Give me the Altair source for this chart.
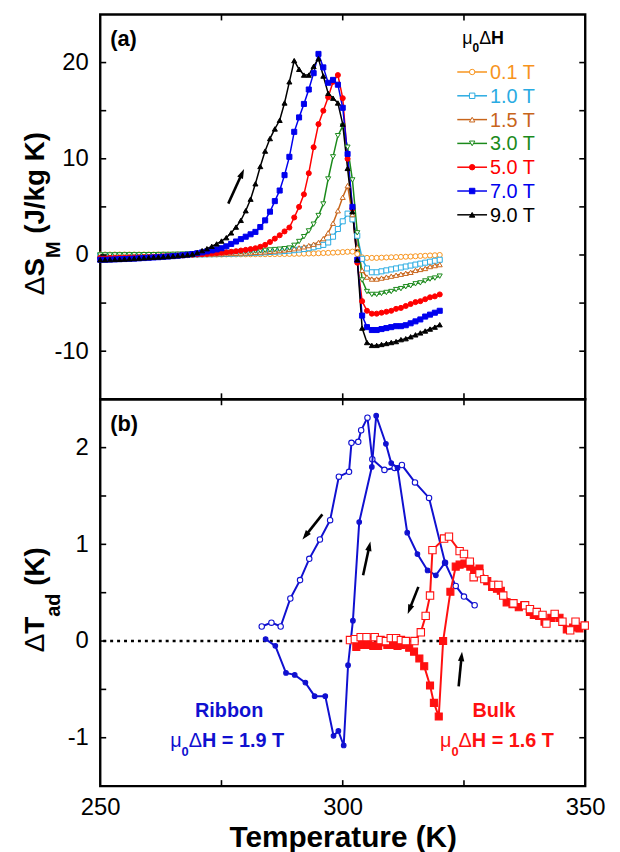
import math
import altair as alt
import pandas as pd

FONT = "Liberation Sans"

# ---------------- panel (a) data: entropy change vs temperature ----------------
T_A = list(range(250, 321))
FIELDS = ["0.1 T", "1.0 T", "1.5 T", "3.0 T", "5.0 T", "7.0 T", "9.0 T"]

S_01 = [0.05, 0.05, 0.05, 0.05, 0.05, 0.05, 0.05, 0.05, 0.05, 0.05,
        0.05, 0.05, 0.05, 0.05, 0.05, 0.05, 0.05, 0.05, 0.05, 0.05,
        0.05, 0.05, 0.05, 0.05, 0.05, 0.05, 0.06, 0.06, 0.06, 0.07,
        0.07, 0.07, 0.08, 0.08, 0.08, 0.09, 0.09, 0.10, 0.10, 0.11,
        0.12, 0.13, 0.14, 0.15, 0.16, 0.18, 0.20, 0.22, 0.24, 0.27,
        0.30, 0.33, 0.35, 0.10, -0.25, -0.30, -0.30, -0.30, -0.28, -0.26,
        -0.24, -0.22, -0.20, -0.18, -0.16, -0.13, -0.10, -0.08, -0.05, -0.03,
        0.00]
S_10 = [-0.05, -0.05, -0.05, -0.05, -0.05, -0.05, -0.04, -0.04, -0.04, -0.04,
        -0.03, -0.03, -0.02, -0.02, -0.01, 0.00, 0.01, 0.02, 0.03, 0.04,
        0.05, 0.06, 0.07, 0.08, 0.09, 0.10, 0.11, 0.13, 0.15, 0.17,
        0.19, 0.21, 0.23, 0.25, 0.28, 0.31, 0.34, 0.37, 0.41, 0.45,
        0.50, 0.56, 0.62, 0.70, 0.80, 0.92, 1.05, 1.30, 1.90, 2.70,
        3.5, 4.3, 3.7, 2.0, -0.4, -1.4, -1.8, -1.8, -1.7, -1.6,
        -1.5, -1.4, -1.3, -1.2, -1.1, -1.0, -0.9, -0.8, -0.7, -0.6,
        -0.5]
S_15 = [0.00, 0.00, 0.00, 0.00, 0.00, 0.00, 0.01, 0.01, 0.01, 0.01,
        0.02, 0.02, 0.02, 0.03, 0.03, 0.04, 0.04, 0.05, 0.05, 0.06,
        0.07, 0.08, 0.09, 0.10, 0.11, 0.12, 0.14, 0.16, 0.18, 0.20,
        0.22, 0.24, 0.27, 0.30, 0.33, 0.37, 0.41, 0.46, 0.52, 0.58,
        0.65, 0.74, 0.85, 0.98, 1.12, 1.30, 1.70, 2.30, 3.30, 4.60,
        6.0, 7.2, 4.2, 0.8, -1.6, -2.3, -2.5, -2.5, -2.4, -2.3,
        -2.2, -2.1, -2.0, -1.9, -1.8, -1.6, -1.5, -1.4, -1.2, -1.1,
        -1.0]
S_30 = [0.00, 0.00, 0.00, 0.01, 0.01, 0.01, 0.02, 0.02, 0.02, 0.03,
        0.03, 0.03, 0.04, 0.05, 0.05, 0.06, 0.07, 0.08, 0.09, 0.10,
        0.12, 0.13, 0.15, 0.17, 0.19, 0.21, 0.24, 0.27, 0.30, 0.32,
        0.35, 0.38, 0.41, 0.44, 0.48, 0.52, 0.56, 0.60, 0.65, 0.72,
        1.0, 1.4, 1.9, 2.5, 3.2, 4.1, 5.3, 7.9, 10.2, 12.4,
        13.4, 11.2, 7.8, 2.3, -2.6, -3.8, -4.1, -4.1, -4.0, -3.9,
        -3.8, -3.6, -3.5, -3.3, -3.2, -3.0, -2.9, -2.7, -2.5, -2.4,
        -2.2]
S_50 = [-0.30, -0.30, -0.29, -0.28, -0.27, -0.26, -0.25, -0.24, -0.23, -0.22,
        -0.20, -0.18, -0.16, -0.14, -0.12, -0.10, -0.07, -0.04, -0.01, 0.02,
        0.05, 0.08, 0.11, 0.15, 0.19, 0.23, 0.28, 0.33, 0.39, 0.46,
        0.53, 0.61, 0.70, 0.85, 1.05, 1.35, 1.70, 2.05, 2.45, 2.85,
        3.9, 5.0, 6.3, 8.5, 11.2, 13.6, 15.0, 16.4, 18.0, 18.7,
        16.3, 10.0, 4.8, -0.8, -4.8, -5.8, -6.1, -6.1, -6.0, -5.9,
        -5.8, -5.6, -5.5, -5.3, -5.1, -4.9, -4.8, -4.6, -4.4, -4.3,
        -4.1]
S_70 = [-0.50, -0.50, -0.48, -0.46, -0.44, -0.42, -0.40, -0.38, -0.35, -0.32,
        -0.29, -0.26, -0.23, -0.20, -0.16, -0.12, -0.08, -0.03, 0.03, 0.10,
        0.18, 0.27, 0.37, 0.48, 0.58, 0.70, 0.90, 1.15, 1.40, 1.65,
        1.90, 2.15, 2.40, 2.90, 3.60, 4.50, 5.60, 6.70, 8.30, 10.2,
        12.8, 14.3, 15.7, 17.2, 18.9, 20.9, 19.5, 17.9, 18.2, 17.7,
        15.3, 10.5, 5.0, -0.5, -6.3, -7.5, -7.8, -7.8, -7.7, -7.6,
        -7.5, -7.4, -7.4, -7.3, -7.1, -6.9, -6.7, -6.4, -6.2, -6.0,
        -5.8]
S_90 = [-0.50, -0.50, -0.48, -0.46, -0.45, -0.42, -0.40, -0.37, -0.33, -0.30,
        -0.27, -0.24, -0.21, -0.18, -0.15, -0.11, -0.07, -0.03, 0.02, 0.10,
        0.25, 0.45, 0.65, 0.90, 1.15, 1.45, 1.80, 2.30, 2.90, 3.60,
        4.60, 5.80, 7.40, 9.20, 10.8, 12.1, 13.1, 14.0, 15.8, 18.0,
        20.2, 19.3, 18.7, 18.7, 19.6, 20.4, 18.6, 16.8, 16.3, 15.8,
        13.6, 9.0, 4.5, -0.5, -7.6, -9.1, -9.4, -9.4, -9.3, -9.2,
        -9.1, -9.0, -8.8, -8.7, -8.5, -8.3, -8.1, -7.9, -7.7, -7.5,
        -7.25]
SERIES_A = [S_01, S_10, S_15, S_30, S_50, S_70, S_90]

COLORS_A = ["#F7941D", "#29ABE2", "#C8651B", "#1B8A1B", "#FF0000", "#0000EE", "#000000"]
SHAPES_A = ["circle", "square", "triangle-up", "triangle-down", "circle", "square", "triangle-up"]
FILLS_A = ["white", "white", "white", "white", "#FF0000", "#0000EE", "#000000"]

# ---------------- panel (b) data: adiabatic temperature change ----------------
RIB_COOL_T = [283.3, 285.3, 287.2, 289.2, 291.2, 293.1, 295.3, 297.4, 299.2, 301.3, 301.8, 303.2,
              303.8, 305.1, 306.1, 308.6, 310.7, 312.2, 314.9, 317.8, 321.1, 323.3, 325.0, 327.2]
RIB_COOL_V = [0.15, 0.19, 0.15, 0.44, 0.63, 0.85, 1.05, 1.25, 1.70, 1.75, 2.05, 2.06,
              2.18, 2.31, 1.88, 1.77, 1.79, 1.82, 1.64, 1.48, 0.81, 0.57, 0.46, 0.37]
RIB_HEAT_T = [284.1, 286.1, 288.3, 290.1, 292.3, 294.2, 296.4, 298.1, 299.1, 300.2, 301.1, 302.1,
              303.4, 306.0, 306.9, 308.9, 310.0, 311.3, 313.3, 315.4, 317.5, 319.2, 321.1]
RIB_HEAT_V = [0.02, -0.05, -0.33, -0.35, -0.43, -0.57, -0.57, -0.98, -0.93, -1.08, -0.25, 0.21,
              1.23, 1.80, 2.33, 2.04, 1.84, 1.79, 1.12, 0.90, 0.73, 0.68, 0.81]
BULK_COOL_T = [301.5, 302.5, 303.7, 304.9, 306.6, 307.8, 308.9, 309.9, 311.0, 312.0,
               313.0, 314.8, 316.1, 317.1, 318.0, 318.5, 320.9, 321.9, 324.1, 325.0,
               326.2, 327.0, 328.2, 329.2, 331.1, 332.1, 333.1, 335.2, 337.6, 338.6,
               340.0, 341.2, 342.0, 343.7, 345.3, 346.9, 348.0, 349.9]
BULK_COOL_V = [0.01, 0.02, 0.04, 0.04, 0.04, 0.01, 0.00, 0.03, 0.03, 0.01,
               0.00, 0.00, 0.09, 0.26, 0.47, 0.94, 1.06, 1.08, 0.93, 0.90,
               0.82, 0.66, 0.70, 0.64, 0.58, 0.58, 0.47, 0.39, 0.37, 0.33,
               0.30, 0.27, 0.18, 0.28, 0.20, 0.11, 0.20, 0.16]
BULK_HEAT_T = [302.8, 303.9, 305.2, 306.3, 307.3, 309.2, 310.3, 311.3, 312.0, 313.7,
               314.7, 315.8, 316.8, 318.0, 318.8, 319.8, 320.7, 322.2, 323.3, 324.1,
               325.1, 326.3, 327.1, 328.2, 329.8, 330.8, 331.8, 332.6, 333.8, 335.0,
               336.3, 337.4, 338.6, 339.4, 340.5, 341.6, 343.0, 344.7, 346.2, 347.5, 348.8]
BULK_HEAT_V = [-0.06, -0.04, -0.04, -0.05, -0.05, -0.04, -0.04, -0.05, -0.04, -0.07,
               -0.11, -0.18, -0.26, -0.46, -0.64, -0.78, 0.00, 0.51, 0.77, 0.79,
               0.80, 0.77, 0.73, 0.75, 0.62, 0.56, 0.54, 0.52, 0.40, 0.38,
               0.35, 0.37, 0.30, 0.27, 0.26, 0.20, 0.24, 0.24, 0.12, 0.14, 0.13]

RIBBON_COLOR = "#1010D0"
BULK_COLOR = "#FF1010"

# arrows: (T tail, value tail, T head, value head)
ARROW_A = [(276.4, 5.34, 279.65, 8.93)]
ARROWS_B = [(295.8, 1.31, 291.7, 1.05), (304.2, 0.68, 305.7, 1.03),
            (315.6, 0.56, 313.4, 0.28), (323.9, -0.47, 324.6, -0.11)]

# ticks and labels
X_TICKS = [275, 300, 325]
YA_TICKS = [-10, -5, 0, 5, 10, 15, 20]
YB_TICKS = [-1, -0.5, 0, 0.5, 1, 1.5, 2]
X_LABELS = [250, 300, 350]
YA_LABELS = [-10, 0, 10, 20]
YB_LABELS = [-1, 0, 1, 2]

for s in SERIES_A:
    assert len(s) == len(T_A), len(s)
assert len(RIB_COOL_T) == len(RIB_COOL_V)
assert len(RIB_HEAT_T) == len(RIB_HEAT_V)
assert len(BULK_COOL_T) == len(BULK_COOL_V)
assert len(BULK_HEAT_T) == len(BULK_HEAT_V)

# ---------------- layout constants ----------------
W = 489
HA = 388
HB = 390
TL = 6
XDOM = [250, 350]
YADOM = [-15, 25]
YBDOM = [-1.5, 2.5]

ONE = pd.DataFrame({"k": [0]})

xs = alt.Scale(domain=XDOM, nice=False, zero=False)
ysa = alt.Scale(domain=YADOM, nice=False, zero=False)
ysb = alt.Scale(domain=YBDOM, nice=False, zero=False)


def yaxis(values):
    return alt.Axis(values=values, title=None, ticks=False, tickSize=0, domain=False, grid=False,
                    labelFontSize=24, labelPadding=12, labelFont=FONT, labelColor="black",
                    labelFlush=False, labelOverlap=False,
                    labelExpr="replace(datum.label, '\u2212', '-')")


AX_YA = yaxis(YA_LABELS)
AX_YB = yaxis(YB_LABELS)
AX_XB = alt.Axis(values=X_LABELS, title="Temperature (K)", titleFontSize=30, titleFontWeight="bold",
                 titleFont=FONT, titleColor="black", titlePadding=3, ticks=False, tickSize=0,
                 domain=False, grid=False, labelFontSize=24, labelPadding=10, labelFont=FONT,
                 labelColor="black", labelFlush=False, labelOverlap=False)

BW = {' ': .278, '(': .333, ')': .333, '/': .278, '.': .278, '=': .584, 'H': .722, 'J': .556,
      'K': .722, 'M': .833, 'S': .667, 'T': .611, 'a': .556, 'd': .611, 'g': .611, 'k': .556,
      'μ': .611, 'Δ': .70}
RW = {' ': .278, 'μ': .576, 'Δ': .668}
for d in "0123456789":
    BW[d] = .556
    RW[d] = .556


def tw(s, size, weight):
    table = BW if weight == "bold" else RW
    return sum(table.get(c, 0.58) for c in s) * size


def rich(pieces, x, y, color, angle=0, center=False):
    total = sum(tw(t, sz, wt) for t, sz, sh, wt in pieces)
    adv = -total / 2 if center else 0.0
    out = []
    for t, sz, sh, wt in pieces:
        stripped = t.lstrip()
        lead = len(t) - len(stripped)
        adv += tw(" " * lead, sz, wt)
        kw = dict(text=stripped, fontSize=sz, fontWeight=wt, font=FONT, color=color,
                  align="left", baseline="alphabetic", dx=adv, dy=sh)
        if angle:
            kw["angle"] = angle
        out.append(alt.Chart(ONE).mark_text(**kw).encode(x=alt.value(x), y=alt.value(y)))
        adv += tw(stripped, sz, wt)
    return out


def tick_layers(H, yscale, yticks, xaxis, yax):
    dx = pd.DataFrame({"t": X_TICKS})
    dy = pd.DataFrame({"t": yticks})
    rule = dict(color="black", strokeWidth=1.6)
    return [
        alt.Chart(dx).mark_rule(**rule).encode(x=alt.X("t:Q", scale=xs, axis=xaxis),
                                              y=alt.value(0), y2=alt.value(TL)),
        alt.Chart(dx).mark_rule(**rule).encode(x=alt.X("t:Q", scale=xs, axis=xaxis),
                                              y=alt.value(H), y2=alt.value(H - TL)),
        alt.Chart(dy).mark_rule(**rule).encode(y=alt.Y("t:Q", scale=yscale, axis=yax),
                                              x=alt.value(0), x2=alt.value(TL)),
        alt.Chart(dy).mark_rule(**rule).encode(y=alt.Y("t:Q", scale=yscale, axis=yax),
                                              x=alt.value(W), x2=alt.value(W - TL)),
    ]


HEAD = "M0,0L0.8,2.4L-0.8,2.4Z"


def arrow_layers(arrows, yscale, H, ydom, xaxis, yax):
    rows = []
    kx = W / (XDOM[1] - XDOM[0])
    ky = H / (ydom[1] - ydom[0])
    for t0, v0, t1, v1 in arrows:
        dxp = (t1 - t0) * kx
        dyp = -(v1 - v0) * ky
        L = math.hypot(dxp, dyp)
        ang = (math.degrees(math.atan2(dxp, -dyp)) + 360) % 360
        f = max(0.0, (L - 5.0) / L)
        rows.append({"t0": t0, "v0": v0, "t1": t1, "v1": v1,
                     "te": t0 + (t1 - t0) * f, "ve": v0 + (v1 - v0) * f, "ang": ang})
    df = pd.DataFrame(rows)
    line = alt.Chart(df).mark_rule(color="black", strokeWidth=2.6).encode(
        x=alt.X("t0:Q", scale=xs, axis=xaxis), x2="te:Q",
        y=alt.Y("v0:Q", scale=yscale, axis=yax), y2="ve:Q")
    head = alt.Chart(df).mark_point(shape=HEAD, filled=True, color="black", size=64, opacity=1).encode(
        x=alt.X("t1:Q", scale=xs, axis=xaxis), y=alt.Y("v1:Q", scale=yscale, axis=yax),
        angle=alt.Angle("ang:Q", scale=None))
    return [line, head]


# ---------------- panel (a) ----------------
rows = []
for i, (name, vals) in enumerate(zip(FIELDS, SERIES_A)):
    for t, s in zip(T_A, vals):
        rows.append({"T": t, "S": s, "field": name, "k": i})
df_a = pd.DataFrame(rows)

stroke_a = alt.Stroke("field:N", scale=alt.Scale(domain=FIELDS, range=COLORS_A), legend=None)
lines_a = alt.Chart(df_a).mark_line(strokeWidth=1.5).encode(
    x=alt.X("T:Q", scale=xs, axis=None),
    y=alt.Y("S:Q", scale=ysa, axis=AX_YA),
    stroke=stroke_a)
points_a = alt.Chart(df_a).mark_point(filled=True, size=26, strokeWidth=1, opacity=1).encode(
    x=alt.X("T:Q", scale=xs, axis=None),
    y=alt.Y("S:Q", scale=ysa, axis=AX_YA),
    stroke=stroke_a,
    fill=alt.Fill("field:N", scale=alt.Scale(domain=FIELDS, range=FILLS_A), legend=None),
    shape=alt.Shape("field:N", scale=alt.Scale(domain=FIELDS, range=SHAPES_A), legend=None),
    order=alt.Order("k:Q"))

legend_layers = []
for i, name in enumerate(FIELDS):
    yy = 58 + 24 * i
    legend_layers.append(alt.Chart(ONE).mark_rule(color=COLORS_A[i], strokeWidth=1.5).encode(
        x=alt.value(360), x2=alt.value(390), y=alt.value(yy)))
    legend_layers.append(alt.Chart(ONE).mark_point(
        shape=SHAPES_A[i], filled=True, fill=FILLS_A[i], stroke=COLORS_A[i], strokeWidth=1,
        size=30, opacity=1).encode(x=alt.value(375), y=alt.value(yy)))
    legend_layers.append(alt.Chart(ONE).mark_text(
        text=name, align="left", baseline="middle", fontSize=20, font=FONT,
        color=COLORS_A[i]).encode(x=alt.value(393), y=alt.value(yy + 1)))

legend_title = rich([("μ", 18, 0, "normal"), ("0", 12, 8, "bold"), ("Δ", 18, 0, "normal"),
                     ("H", 18, 0, "bold")], 365, 30, "black")

ytitle_a = rich([("Δ", 28, 0, "normal"), ("S", 28, 0, "bold"), ("M", 20, 16, "bold"),
                 (" (J/kg K)", 28, 0, "bold")], -57, 283, "black", angle=270)

label_a = alt.Chart(ONE).mark_text(text="(a)", fontSize=22, fontWeight="bold", font=FONT,
                                   align="left", baseline="alphabetic", color="black").encode(
    x=alt.value(10), y=alt.value(32))

panel_a = alt.layer(
    lines_a, points_a,
    *tick_layers(HA, ysa, YA_TICKS, None, AX_YA),
    *arrow_layers(ARROW_A, ysa, HA, YADOM, None, AX_YA),
    *legend_layers, *legend_title, *ytitle_a, label_a,
).properties(width=W, height=HA)

# ---------------- panel (b) ----------------
zero_line = alt.Chart(pd.DataFrame({"y": [0]})).mark_rule(
    color="black", strokeWidth=2.6, strokeDash=[3, 4]).encode(
    y=alt.Y("y:Q", scale=ysb, axis=AX_YB))


def curve(T, V, color, shape, filled, size, lw):
    df = pd.DataFrame({"T": T, "V": V})
    base = alt.Chart(df).encode(x=alt.X("T:Q", scale=xs, axis=AX_XB),
                                y=alt.Y("V:Q", scale=ysb, axis=AX_YB))
    ln = base.mark_line(color=color, strokeWidth=lw)
    pt = base.mark_point(shape=shape, filled=True, fill=(color if filled else "white"),
                         stroke=color, strokeWidth=1.1, size=size, opacity=1)
    return [ln, pt]


label_b = alt.Chart(ONE).mark_text(text="(b)", fontSize=22, fontWeight="bold", font=FONT,
                                   align="left", baseline="alphabetic", color="black").encode(
    x=alt.value(10), y=alt.value(32))

ribbon_txt = alt.Chart(ONE).mark_text(text="Ribbon", fontSize=20, fontWeight="bold", font=FONT,
                                      align="center", baseline="alphabetic",
                                      color=RIBBON_COLOR).encode(x=alt.value(130), y=alt.value(320))
bulk_txt = alt.Chart(ONE).mark_text(text="Bulk", fontSize=20, fontWeight="bold", font=FONT,
                                    align="center", baseline="alphabetic",
                                    color=BULK_COLOR).encode(x=alt.value(397), y=alt.value(320))
ribbon_field = rich([("μ", 20, 0, "normal"), ("0", 13, 9, "bold"), ("Δ", 20, 0, "normal"),
                     ("H = 1.9 T", 20, 0, "bold")], 128, 351, RIBBON_COLOR, center=True)
bulk_field = rich([("μ", 20, 0, "normal"), ("0", 13, 9, "bold"), ("Δ", 20, 0, "normal"),
                   ("H = 1.6 T", 20, 0, "bold")], 400, 351, BULK_COLOR, center=True)

ytitle_b = rich([("Δ", 28, 0, "normal"), ("T", 28, 0, "bold"), ("ad", 20, 16, "bold"),
                 (" (K)", 28, 0, "bold")], -57, 255, "black", angle=270)

panel_b = alt.layer(
    zero_line,
    *curve(RIB_COOL_T, RIB_COOL_V, RIBBON_COLOR, "circle", False, 30, 2),
    *curve(RIB_HEAT_T, RIB_HEAT_V, RIBBON_COLOR, "circle", True, 22, 2),
    *curve(BULK_HEAT_T, BULK_HEAT_V, BULK_COLOR, "square", True, 50, 2),
    *curve(BULK_COOL_T, BULK_COOL_V, BULK_COLOR, "square", False, 55, 2),
    *tick_layers(HB, ysb, YB_TICKS, AX_XB, AX_YB),
    *arrow_layers(ARROWS_B, ysb, HB, YBDOM, AX_XB, AX_YB),
    ribbon_txt, bulk_txt, *ribbon_field, *bulk_field, *ytitle_b, label_b,
).properties(width=W, height=HB)

chart = alt.vconcat(panel_a, panel_b, spacing=0, bounds="flush").properties(
    padding={"left": 12, "top": 1, "right": 5, "bottom": 2}
).configure_view(stroke="black", strokeWidth=2.4).configure_axis(grid=False)

chart.save("out.html", embed_options={"renderer": "svg", "actions": False})
